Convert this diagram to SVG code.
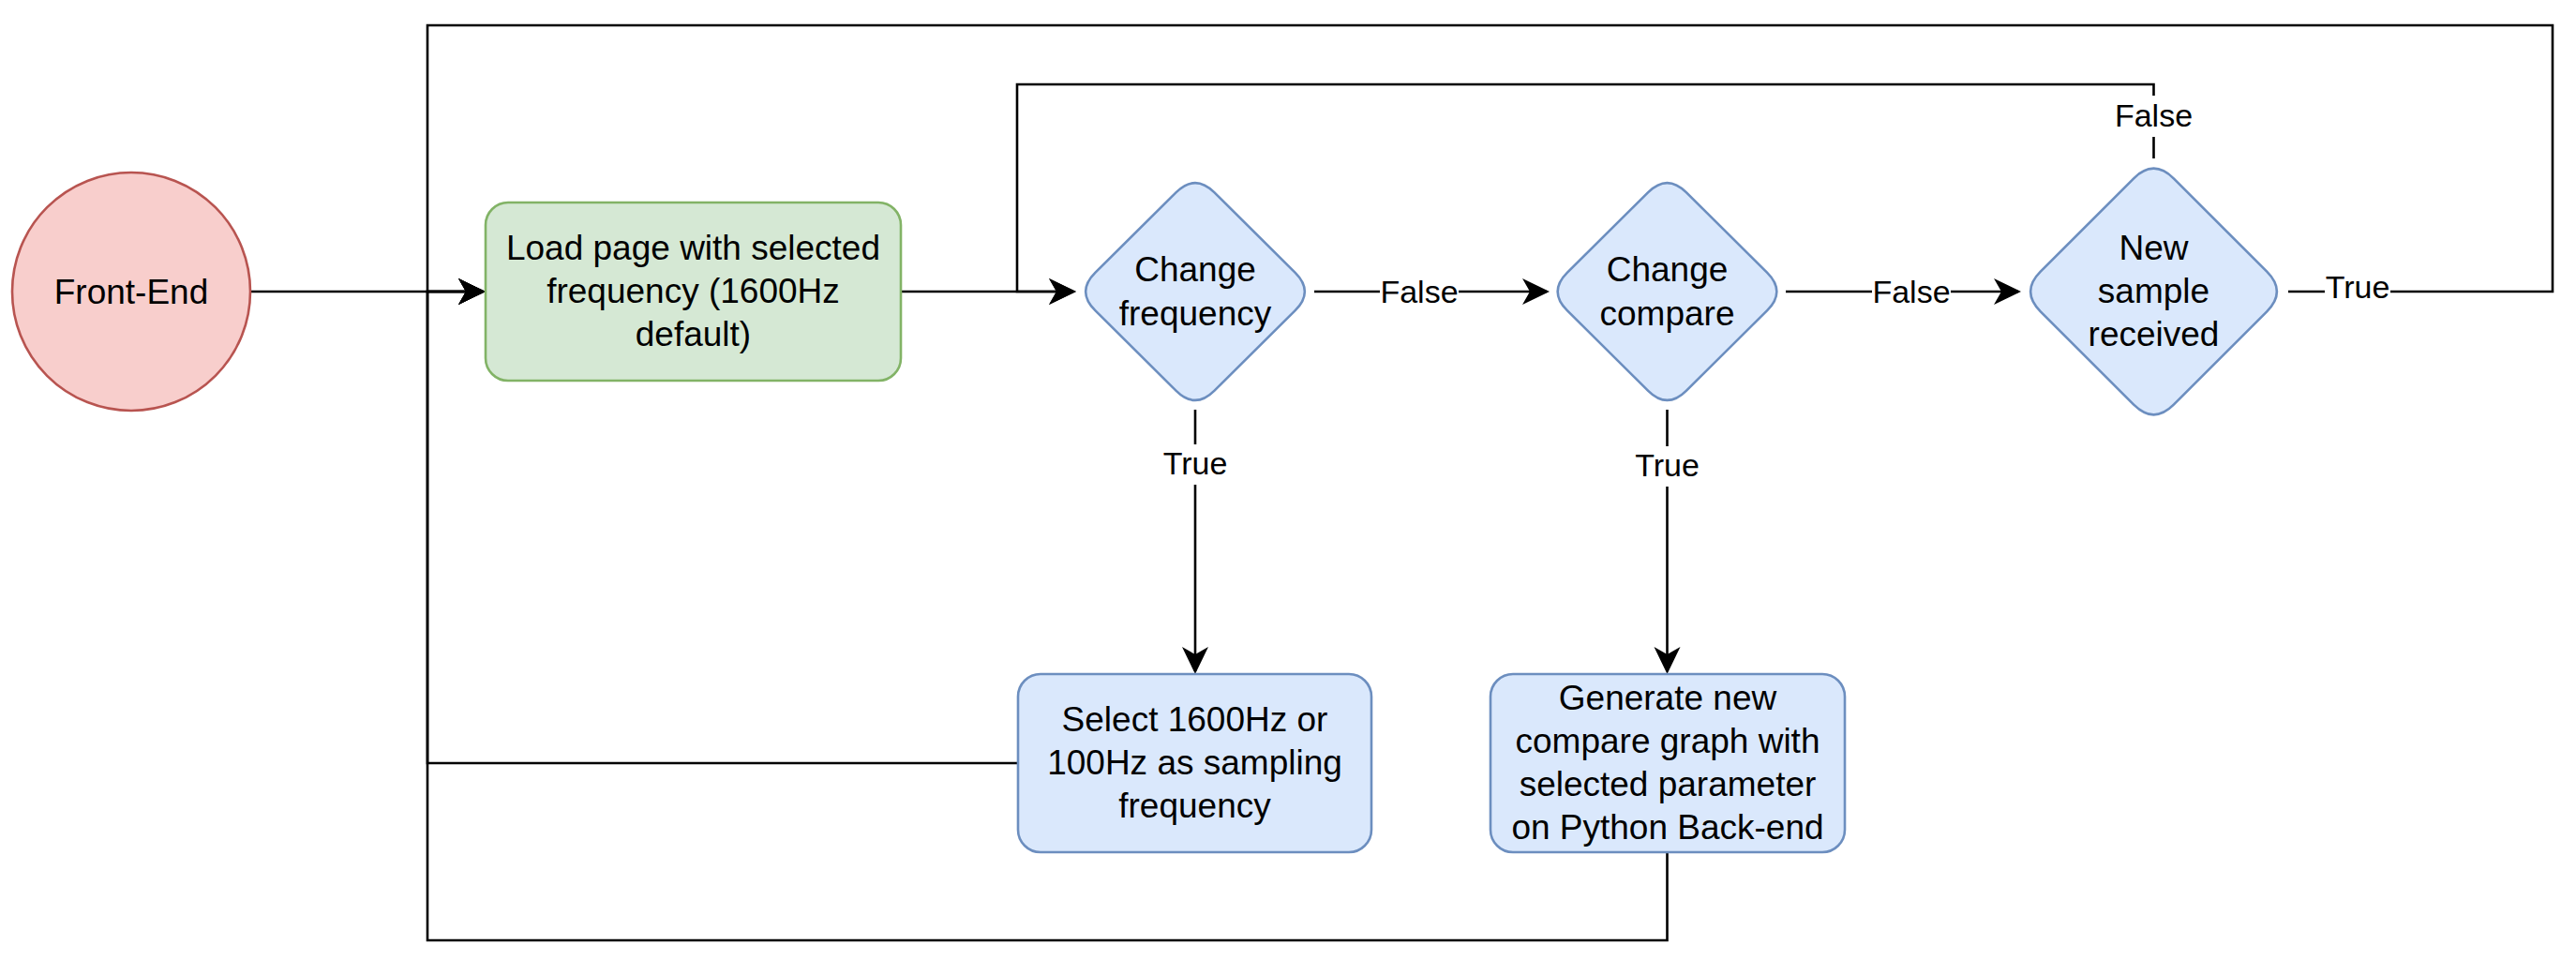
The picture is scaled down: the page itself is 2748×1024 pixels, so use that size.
<svg xmlns="http://www.w3.org/2000/svg" width="2748" height="1024" viewBox="0 0 2748 1024">
<style>
.t{font-family:"Liberation Sans",Arial,sans-serif;font-size:37px;fill:#000;text-anchor:middle}
.l{font-family:"Liberation Sans",Arial,sans-serif;font-size:34px;fill:#000;text-anchor:middle}
.e{fill:none;stroke:#000;stroke-width:2.6}
.red{fill:#f8cecc;stroke:#b85450;stroke-width:2.6}
.green{fill:#d5e8d4;stroke:#82b366;stroke-width:2.6}
.blue{fill:#dae8fc;stroke:#6c8ebf;stroke-width:2.6}
.bg{fill:#fff}
</style>
<defs>
<marker id="arr" markerUnits="userSpaceOnUse" markerWidth="30" markerHeight="30" viewBox="0 0 30 30" refX="26" refY="15" orient="auto">
<path d="M0,1 L29,15 L0,29 L8,15 Z" fill="#000"/>
</marker>
</defs>
<rect width="2748" height="1024" fill="#fff"/>
<g id="connectors">
<path class="e" d="M267,311 H515" marker-end="url(#arr)"/>
<path class="e" d="M961,311 H1145" marker-end="url(#arr)"/>
<path class="e" d="M1402,311 H1650" marker-end="url(#arr)"/>
<path class="e" d="M1905,311 H2153" marker-end="url(#arr)"/>
<path class="e" d="M2297.5,169 V90 H1085 V311 H1145" marker-end="url(#arr)"/>
<path class="e" d="M2441,311 H2723 V27 H456 V311 H515" marker-end="url(#arr)"/>
<path class="e" d="M1275,437 V716" marker-end="url(#arr)"/>
<path class="e" d="M1778.5,437 V716" marker-end="url(#arr)"/>
<path class="e" d="M1086,814 H456 V311 H515" marker-end="url(#arr)"/>
<path class="e" d="M1778.5,908 V1003 H456 V311 H515" marker-end="url(#arr)"/>
<rect class="bg" x="1472" y="292" width="84" height="38"/>
<text class="l" x="1514" y="323">False</text>
<rect class="bg" x="1997" y="292" width="84" height="38"/>
<text class="l" x="2039" y="323">False</text>
<rect class="bg" x="2255" y="102" width="85" height="44"/>
<text class="l" x="2297.5" y="135">False</text>
<rect class="bg" x="2480" y="288" width="70" height="38"/>
<text class="l" x="2515" y="318">True</text>
<rect class="bg" x="1240" y="474" width="70" height="43"/>
<text class="l" x="1275" y="506">True</text>
<rect class="bg" x="1743.5" y="476" width="70" height="43"/>
<text class="l" x="1778.5" y="508">True</text>
</g>
<g id="front-end">
<circle class="red" cx="140" cy="311" r="127"/>
<text class="t" x="140" y="324">Front-End</text>
</g>
<g id="load-page">
<rect class="green" x="518" y="216" width="443" height="190" rx="24"/>
<text class="t" x="739.5" y="277">Load page with selected</text>
<text class="t" x="739.5" y="323">frequency (1600Hz</text>
<text class="t" x="739.5" y="369">default)</text>
</g>
<g id="change-frequency">
<path class="blue" d="M1168.3,290.8 L1254.7,205.2 Q1275,185 1295.3,205.2 L1381.7,290.8 Q1402,311 1381.7,331.2 L1295.3,416.8 Q1275,437 1254.7,416.8 L1168.3,331.2 Q1148,311 1168.3,290.8 Z"/>
<text class="t" x="1275" y="300">Change</text>
<text class="t" x="1275" y="347">frequency</text>
</g>
<g id="change-compare">
<path class="blue" d="M1671.8,290.8 L1758.2,205.2 Q1778.5,185 1798.8,205.2 L1885.2,290.8 Q1905.5,311 1885.2,331.2 L1798.8,416.8 Q1778.5,437 1758.2,416.8 L1671.8,331.2 Q1651.5,311 1671.8,290.8 Z"/>
<text class="t" x="1778.5" y="300">Change</text>
<text class="t" x="1778.5" y="347">compare</text>
</g>
<g id="new-sample">
<path class="blue" d="M2176.8,289.7 L2276.2,190.3 Q2297.5,169 2318.8,190.3 L2418.2,289.7 Q2439.5,311 2418.2,332.3 L2318.8,431.7 Q2297.5,453 2276.2,431.7 L2176.8,332.3 Q2155.5,311 2176.8,289.7 Z"/>
<text class="t" x="2297.5" y="277">New</text>
<text class="t" x="2297.5" y="323">sample</text>
<text class="t" x="2297.5" y="369">received</text>
</g>
<g id="select-frequency">
<rect class="blue" x="1086" y="719" width="377" height="190" rx="24"/>
<text class="t" x="1274.5" y="780">Select 1600Hz or</text>
<text class="t" x="1274.5" y="826">100Hz as sampling</text>
<text class="t" x="1274.5" y="872">frequency</text>
</g>
<g id="generate-graph">
<rect class="blue" x="1590" y="719" width="378" height="190" rx="24"/>
<text class="t" x="1779" y="757">Generate new</text>
<text class="t" x="1779" y="803">compare graph with</text>
<text class="t" x="1779" y="849">selected parameter</text>
<text class="t" x="1779" y="895">on Python Back-end</text>
</g>
</svg>
